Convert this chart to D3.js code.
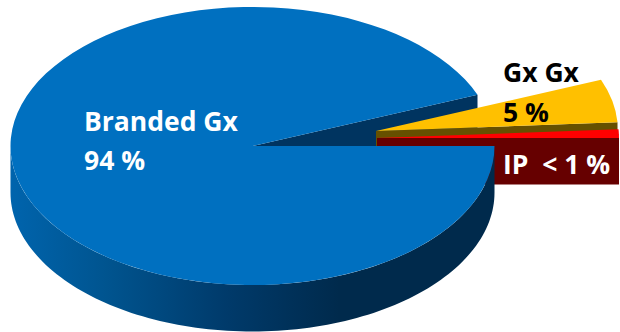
<!DOCTYPE html>
<html>
<head>
<meta charset="utf-8">
<script src="https://cdn.jsdelivr.net/npm/d3@7"></script>
<style>
  html, body { margin: 0; padding: 0; background: #fff; }
  svg { display: block; }
  text { font-family: "Open Sans", "Noto Sans", sans-serif; font-weight: 700; font-size: 26.5px; white-space: pre; }
</style>
</head>
<body>
<svg id="chart" width="620" height="332"></svg>
<script>
// Market share by segment
const segments = ["Branded Gx", "Gx Gx", "IP"];
const shares = [94, 5, 1];
const shareLabels = ["94 %", "5 %", "< 1 %"];

// Tilted-disc layout
const W = 620, H = 332;
const cx = 252.5, cy = 146, rx = 242, ry = 139, depth = 46.5;
const explode = [[0, 0], [123.5, -15], [124.5, -8]];
const topColors = ["#0070c0", "#ffc000", "#ff0000"];
const wallColors = ["#003460", "#665000", "#660000"];

const svg = d3.select("#chart").attr("viewBox", `0 0 ${W} ${H}`);

// Rim shading for the front of the disc, in the disc's own coordinates
const grad = svg.append("defs").append("linearGradient")
  .attr("id", "rim").attr("gradientUnits", "userSpaceOnUse")
  .attr("x1", -rx).attr("x2", rx).attr("y1", 0).attr("y2", 0);
[[0, "#0064ad"], [0.2, "#00548f"], [0.45, "#003a6a"], [0.68, "#002a4c"], [1, "#002a4c"]]
  .forEach(([o, c]) => grad.append("stop").attr("offset", o).attr("stop-color", c));

const arcs = d3.pie().sort(null)
  .startAngle(Math.PI / 2).endAngle(Math.PI / 2 + 2 * Math.PI)(shares);

const arcTop = d3.arc().innerRadius(0).outerRadius(rx);
const rim = a => [rx * Math.sin(a), -ry * Math.cos(a)];

// Radial cut face that hangs below one straight edge of a slice
function cutFace(angle) {
  const [x, y] = rim(angle);
  const p = d3.path();
  p.moveTo(0, 0); p.lineTo(x, y); p.lineTo(x, y + depth); p.lineTo(0, depth); p.closePath();
  return p.toString();
}

// Outer wall of the near half of the disc, between two clockwise angles
function outerWall(a0, a1) {
  const pts = d3.range(0, 121).map(i => rim(a0 + (a1 - a0) * i / 120));
  const p = d3.path();
  pts.forEach(([x, y], i) => i ? p.lineTo(x, y) : p.moveTo(x, y));
  pts.slice().reverse().forEach(([x, y]) => p.lineTo(x, y + depth));
  p.closePath();
  return p.toString();
}

const sliceGroup = i => svg.append("g")
  .attr("transform", `translate(${cx + explode[i][0]},${cy + explode[i][1]})`);
const drawTop = (g, i) => g.append("path")
  .attr("d", arcTop(arcs[i]))
  .attr("transform", `scale(1,${ry / rx})`)
  .attr("fill", topColors[i]);

// Far cut face of the large slice sits behind everything else
sliceGroup(0).append("path").attr("d", cutFace(arcs[0].endAngle)).attr("fill", wallColors[0]);

// The two pulled-out slices
[1, 2].forEach(i => {
  const g = sliceGroup(i);
  g.append("path").attr("d", cutFace(arcs[i].endAngle)).attr("fill", wallColors[i]);
  drawTop(g, i);
});

// Large slice: rim, then top face
const main = sliceGroup(0);
main.append("path")
  .attr("d", outerWall(Math.PI / 2, Math.PI * 1.5))
  .attr("fill", "url(#rim)");
drawTop(main, 0);

// Labels
const label = (x, y, str, fill) => svg.append("text")
  .attr("x", x).attr("y", y).attr("fill", fill).text(str);
label(84, 131, segments[0], "#fff");
label(84, 170, shareLabels[0], "#fff");
label(503, 82, segments[1], "#000");
label(503, 122, shareLabels[1], "#000");
label(503, 174, `${segments[2]}  ${shareLabels[2]}`, "#fff");
</script>
</body>
</html>
